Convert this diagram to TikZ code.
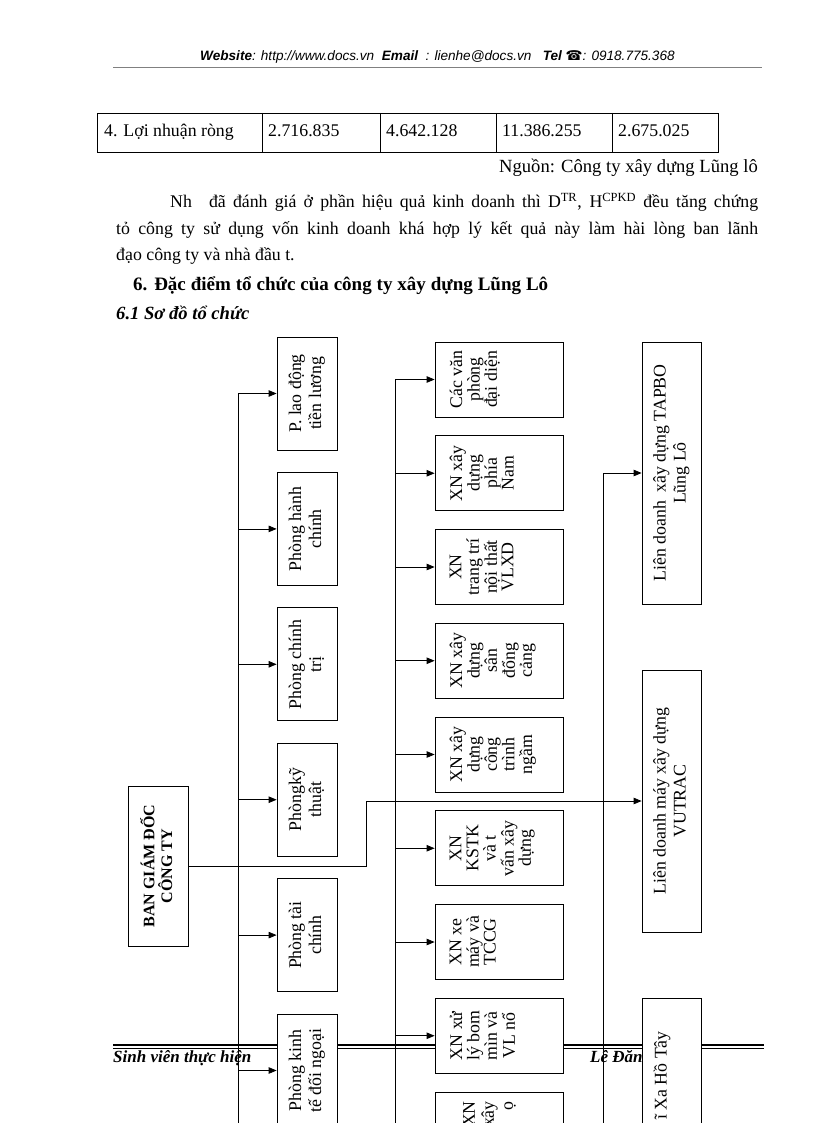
\documentclass[tikz,border=0pt]{standalone}
\usepackage{fontspec}
\setmainfont{Liberation Serif}
\newfontfamily\hdrfont{Liberation Sans}
\newfontfamily\symfont{DejaVu Sans}
\usepackage{graphicx}
\usetikzlibrary{arrows.meta}
\tikzset{
  arr/.style={-{Triangle[length=8pt,width=6.5pt]}, line width=0.8pt},
  ln/.style={line width=0.8pt},
  box/.style={draw, fill=white, line width=0.8pt, inner sep=0pt},
  lbox/.style={box, minimum width=60pt, minimum height=113pt},
  mbox/.style={box, minimum width=128pt, minimum height=75pt},
  rbox/.style={box, minimum width=59pt, minimum height=262pt},
  bbox/.style={box, minimum width=60pt, minimum height=160pt},
  mtxt/.style={anchor=west, inner sep=0pt},
  body/.style={inner sep=0pt, font=\fontsize{17.8}{20}\selectfont},
}
\newcommand{\rl}[2][20]{\rotatebox{90}{\fontsize{17.8}{#1}\selectfont\begin{tabular}{@{}c@{}}#2\end{tabular}}}
\begin{document}
\begin{tikzpicture}[x=1pt,y=-1pt]
\useasboundingbox (0,0) rectangle (816,1123);
\fill[white] (0,0) rectangle (816,1123);

% header
\node[anchor=base west, inner sep=0pt, font=\hdrfont\itshape\fontsize{13.6}{15}\selectfont] (hdr) at (200,61)
  {\textbf{Website}: http://www.docs.vn\ \ \textbf{Email}\ \ : lienhe@docs.vn\ \ \ \textbf{Tel}\ {\symfont\upshape\bfseries ☎}: 0918.775.368};
\draw[gray, line width=0.6pt] (113,67) -- (762,67);

% table
\draw[line width=0.9pt] (97,113) rectangle (718,152);
\foreach \x in {262,380,496,612} \draw[line width=0.9pt] (\x,113) -- (\x,152);
\node[body, anchor=base west] (c1) at (104,137) {4. Lợi nhuận ròng};
\node[body, anchor=base west] (c2) at (268,137) {2.716.835};
\node[body, anchor=base west] (c3) at (386,137) {4.642.128};
\node[body, anchor=base west] (c4) at (502,137) {11.386.255};
\node[body, anchor=base west] (c5) at (618,137) {2.675.025};
\node[body, anchor=base east, font=\fontsize{18.6}{20}\selectfont] (src) at (758,173) {Nguồn: Công ty xây dựng Lũng lô};

% paragraph
\node[body, anchor=base west] (l1) at (170,208) {\makebox[588pt][s]{Nh\hspace{10pt} đã đánh giá ở phần hiệu quả kinh doanh thì D\textsuperscript{TR}, H\textsuperscript{CPKD} đều tăng chứng}};
\node[body, anchor=base west] (l2) at (116,235) {\makebox[642pt][s]{tỏ công ty sử dụng vốn kinh doanh khá hợp lý kết quả này làm hài lòng ban lãnh}};
\node[body, anchor=base west] (l3) at (116,260) {đạo công ty và nhà đầu t.};
\node[body, anchor=base west, font=\fontsize{19}{20}\selectfont\bfseries] (h6) at (133,290) {\makebox[415pt][s]{6. Đặc điểm tổ chức của công ty xây dựng Lũng Lô}};
\node[body, anchor=base west, font=\fontsize{18.6}{20}\selectfont\bfseries\itshape] (h61) at (116,319) {6.1 Sơ đồ tổ chức};

% footer (behind boxes)
\draw[line width=1.6pt] (113,1045) -- (764,1045);
\draw[line width=0.6pt] (113,1048.5) -- (764,1048.5);
\node[anchor=base west, inner sep=0pt, font=\fontsize{17}{18}\selectfont\bfseries\itshape] (sv) at (113,1062) {Sinh viên thực hiện};
\node[anchor=base west, inner sep=0pt, font=\fontsize{17}{18}\selectfont\bfseries\itshape] (le) at (590,1062) {Lê Đăng};

% left column
\node[lbox] (p1) at (307,393.5) {\rl{P. lao động\\tiền lương}};
\node[lbox] (p2) at (307,528.9) {\rl{Phòng hành\\chính}};
\node[lbox] (p3) at (307,664.3) {\rl{Phòng chính\\trị}};
\node[lbox] (p4) at (307,799.7) {\rl{Phòngkỹ\\thuật}};
\node[lbox] (p5) at (307,935.1) {\rl{Phòng tài\\chính}};
\node[lbox] (p6) at (307,1070.5) {\rl{Phòng kinh\\tế đối ngoại}};

% middle column
\node[mbox] (m1) at (499,379.5) {};
\node[mbox] (m2) at (499,473.25) {};
\node[mbox] (m3) at (499,567) {};
\node[mbox] (m4) at (499,660.75) {};
\node[mbox] (m5) at (499,754.5) {};
\node[mbox] (m6) at (499,848.25) {};
\node[mbox] (m7) at (499,942) {};
\node[mbox] (m8) at (499,1035.75) {};
\node[mbox] (m9) at (499,1129.5) {};
\node[mtxt] (m1t) at ([xshift=15pt]m1.west) {\rl[16.7]{Các văn\\phòng\\đại diện}};
\node[mtxt] (m2t) at ([xshift=15pt]m2.west) {\rl[16.7]{XN xây\\dựng\\phía\\Nam}};
\node[mtxt] (m3t) at ([xshift=15pt]m3.west) {\rl[16.7]{XN\\trang trí\\nội thất\\VLXD}};
\node[mtxt] (m4t) at ([xshift=15pt]m4.west) {\rl[16.7]{XN xây\\dựng\\sân\\đổng\\cảng}};
\node[mtxt] (m5t) at ([xshift=15pt]m5.west) {\rl[16.7]{XN xây\\dựng\\công\\trình\\ngầm}};
\node[mtxt] (m6t) at ([xshift=15pt]m6.west) {\rl[16.7]{XN\\KSTK\\và t\\vấn xây\\dựng}};
\node[mtxt] (m7t) at ([xshift=15pt]m7.west) {\rl[16.7]{XN xe\\máy và\\TCCG}};
\node[mtxt] (m8t) at ([xshift=15pt]m8.west) {\rl[16.7]{XN xử\\lý bom\\mìn và\\VL nổ}};
\node[anchor=north, inner sep=0pt] (m9t) at (490,1101)
  {\rotatebox{90}{\fontsize{17.8}{19}\selectfont\begin{tabular}{@{}r@{}}XN\\xây\\ọ\end{tabular}}};

% right column
\node[rbox] (r1) at (671.5,473) {\rl{Liên doanh\ \ xây dựng TAPBO\\Lũng Lô}};
\node[rbox] (r2) at (671.5,801) {\rl{Liên doanh máy xây dựng\\VUTRAC}};
\node[rbox] (r3) at (671.5,1129) {};
\node[anchor=north, inner sep=0pt] (r3t) at (662,1031)
  {\rotatebox{90}{\fontsize{17.8}{20}\selectfont ĩ Xa Hồ Tây}};

% director
\node[bbox] (ban) at (158,866)
  {\rotatebox{90}{\fontsize{16}{13}\selectfont\bfseries\begin{tabular}{@{}c@{}}BAN GIÁM ĐỐC\\CÔNG TY\end{tabular}}};

% bus lines
\coordinate (Ltop) at (238,393.5);
\coordinate (Lbot) at (238,1130);
\coordinate (Mtop) at (395,379.5);
\coordinate (Mbot) at (395,1130);
\coordinate (Rtop) at (603,473);
\coordinate (Rbot) at (603,1130);
\coordinate (bend) at (366,0);
\draw[ln] (Ltop) -- (Lbot);
\draw[ln] (Mtop) -- (Mbot);
\draw[ln] (Rtop) -- (Rbot);
\foreach \n in {p1,p2,p3,p4,p5,p6} \draw[arr] (\n.west -| Ltop) -- (\n.west);
\foreach \n in {m1,m2,m3,m4,m5,m6,m7,m8} \draw[arr] (\n.west -| Mtop) -- (\n.west);
\draw[arr] (Rtop) -- (r1.west);
\draw[arr] (ban.east) -- (ban.east -| bend) |- (r2.west);
\end{tikzpicture}
\end{document}
